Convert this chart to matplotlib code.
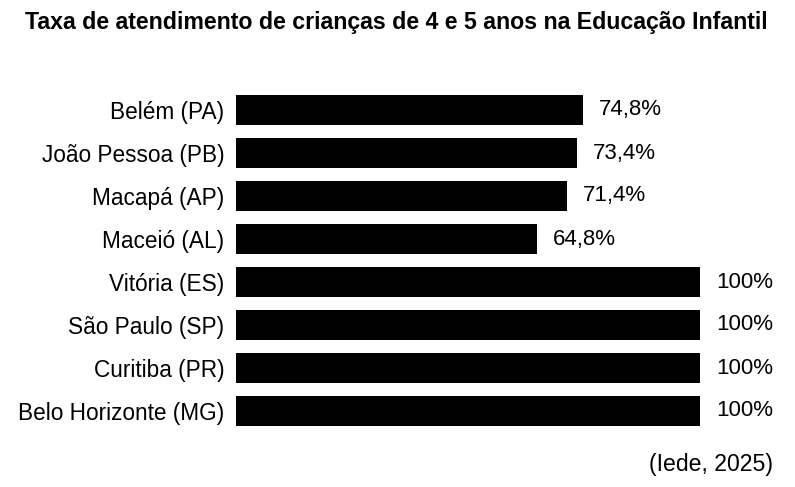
import matplotlib.pyplot as plt
from matplotlib import font_manager

cidades = ['Belém (PA)', 'João Pessoa (PB)', 'Macapá (AP)', 'Maceió (AL)',
           'Vitória (ES)', 'São Paulo (SP)', 'Curitiba (PR)', 'Belo Horizonte (MG)']
taxas = [74.8, 73.4, 71.4, 64.8, 100, 100, 100, 100]
rotulos = ['74,8%', '73,4%', '71,4%', '64,8%', '100%', '100%', '100%', '100%']

names = {f.name for f in font_manager.fontManager.ttflist}
narrow = 'Liberation Sans Narrow' in names
title_font = 'Liberation Sans Narrow' if narrow else 'Liberation Sans'
title_size = 20.25 if narrow else 16.7
plt.rcParams['font.family'] = ['Liberation Sans', 'DejaVu Sans']

fig = plt.figure(figsize=(7.95, 4.87), dpi=100)
ax = fig.add_axes([236 / 795, (487 - 432.5) / 487, 464 / 795, 344 / 487])

ax.barh(range(len(cidades)), taxas, height=0.72, color='black')
ax.set_xlim(0, 100)
ax.set_ylim(len(cidades) - 0.5, -0.5)

for i, (v, lab) in enumerate(zip(taxas, rotulos)):
    ax.annotate(lab, xy=(v, i), xytext=(11.5, 0), textcoords='offset points',
                ha='left', va='center', fontsize=16)

ax.set_yticks(range(len(cidades)))
ax.set_yticklabels(cidades, fontsize=16.3)
ax.tick_params(axis='y', length=0, pad=8.5)
ax.set_xticks([])
for s in ax.spines.values():
    s.set_visible(False)

fig.text(0.5 - 1 / 795, 1 - 23 / 487, 'Taxa de atendimento de crianças de 4 e 5 anos na Educação Infantil',
         ha='center', va='center', fontsize=title_size, fontweight='bold',
         family=[title_font, 'DejaVu Sans'])
fig.text(773 / 795, 1 - 465 / 487, '(Iede, 2025)', ha='right', va='center', fontsize=16.6)

fig.savefig('out.png', dpi=100)
